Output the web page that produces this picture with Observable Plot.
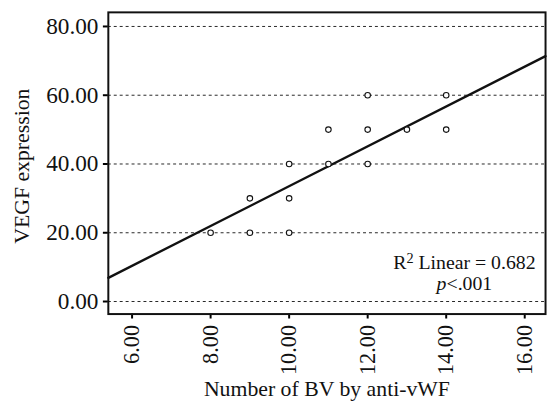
<!DOCTYPE html>
<html>
<head>
<meta charset="utf-8">
<script src="https://cdn.jsdelivr.net/npm/d3@7"></script>
<script src="https://cdn.jsdelivr.net/npm/@observablehq/plot@0.6"></script>
<style>
  html, body { margin: 0; padding: 0; background: #fff; overflow: hidden; }
  #chart svg { display: block; }
</style>
</head>
<body>
<div id="chart"></div>
<script>
// Data
const bvCount = [8, 9, 9, 10, 10, 10, 11, 11, 12, 12, 12, 13, 14, 14];
const vegf    = [20, 30, 20, 40, 30, 20, 50, 40, 60, 50, 40, 50, 60, 50];
const xTicks = [6, 8, 10, 12, 14, 16];
const yTicks = [0, 20, 40, 60, 80];
// Fit line as drawn in the reference (intercept, slope)
const fitIntercept = -24.35;
const fitSlope = 5.79;
const xTitle = ["Number of BV by anti-vWF"];
const yTitle = ["VEGF expression"];
const annotLine1 = ["R2 Linear = 0.682"];
const annotLine2 = ["p<.001"];

const xDomain = [5.395, 16.53];
const yDomain = [-3.65, 84.1];

const points = bvCount.map((x, i) => ({x, y: vegf[i]}));
const fit = xDomain.map(x => ({x, y: fitIntercept + fitSlope * x}));

const FONT = "Liberation Serif, Times New Roman, serif";

const chart = Plot.plot({
  width: 556,
  height: 407,
  marginLeft: 109,
  marginRight: 5,
  marginTop: 12,
  marginBottom: 90,
  style: {fontFamily: FONT, background: "#fff", color: "#000"},
  x: {domain: xDomain},
  y: {domain: yDomain},
  marks: [
    Plot.gridY(yTicks, {stroke: "#000", strokeOpacity: 0.85, strokeWidth: 1, strokeDasharray: "3,3"}),
    Plot.line(fit, {x: "x", y: "y", stroke: "#111", strokeWidth: 2.4}),
    Plot.dot(points, {x: "x", y: "y", r: 2.8, stroke: "#111", strokeWidth: 1.1, fill: "#fff"}),
    Plot.axisY(yTicks, {tickFormat: d3.format(".2f"), tickSize: 5, tickPadding: 5, strokeWidth: 2, fontSize: 23.5, label: null, fill: "#111"}),
    Plot.axisX(xTicks, {tickFormat: d3.format(".2f"), tickSize: 5, tickPadding: 6, tickRotate: -90, strokeWidth: 2, fontSize: 22.5, label: null, fill: "#111"}),
    Plot.frame({stroke: "#111", strokeWidth: 2}),
    Plot.text(xTitle, {frameAnchor: "bottom", dy: 76, fontSize: 22, textAnchor: "middle", lineAnchor: "middle", fill: "#111"}),
    Plot.text(yTitle, {frameAnchor: "left", dx: -87, dy: 3, rotate: -90, fontSize: 22, textAnchor: "middle", lineAnchor: "middle", fill: "#111"}),
    Plot.text(annotLine1, {frameAnchor: "bottom-right", dx: -82, dy: -52, fontSize: 20, textAnchor: "middle", lineAnchor: "middle", fill: "#111"}),
    Plot.text(annotLine2, {frameAnchor: "bottom-right", dx: -82, dy: -31, fontSize: 20, textAnchor: "middle", lineAnchor: "middle", fill: "#111"})
  ]
});

// Superscript "2" in R2, italic "p" in p<.001
d3.select(chart).selectAll("text").each(function () {
  const t = d3.select(this);
  if (this.textContent === annotLine1[0]) {
    t.text(null);
    t.append("tspan").text("R");
    t.append("tspan").attr("dy", "-0.45em").attr("font-size", "0.72em").text("2");
    t.append("tspan").attr("dy", "0.32em").text(" Linear = 0.682");
  } else if (this.textContent === annotLine2[0]) {
    t.text(null);
    t.append("tspan").attr("font-style", "italic").text("p");
    t.append("tspan").text("<.001");
  }
});

document.getElementById("chart").appendChild(chart);
</script>
</body>
</html>
